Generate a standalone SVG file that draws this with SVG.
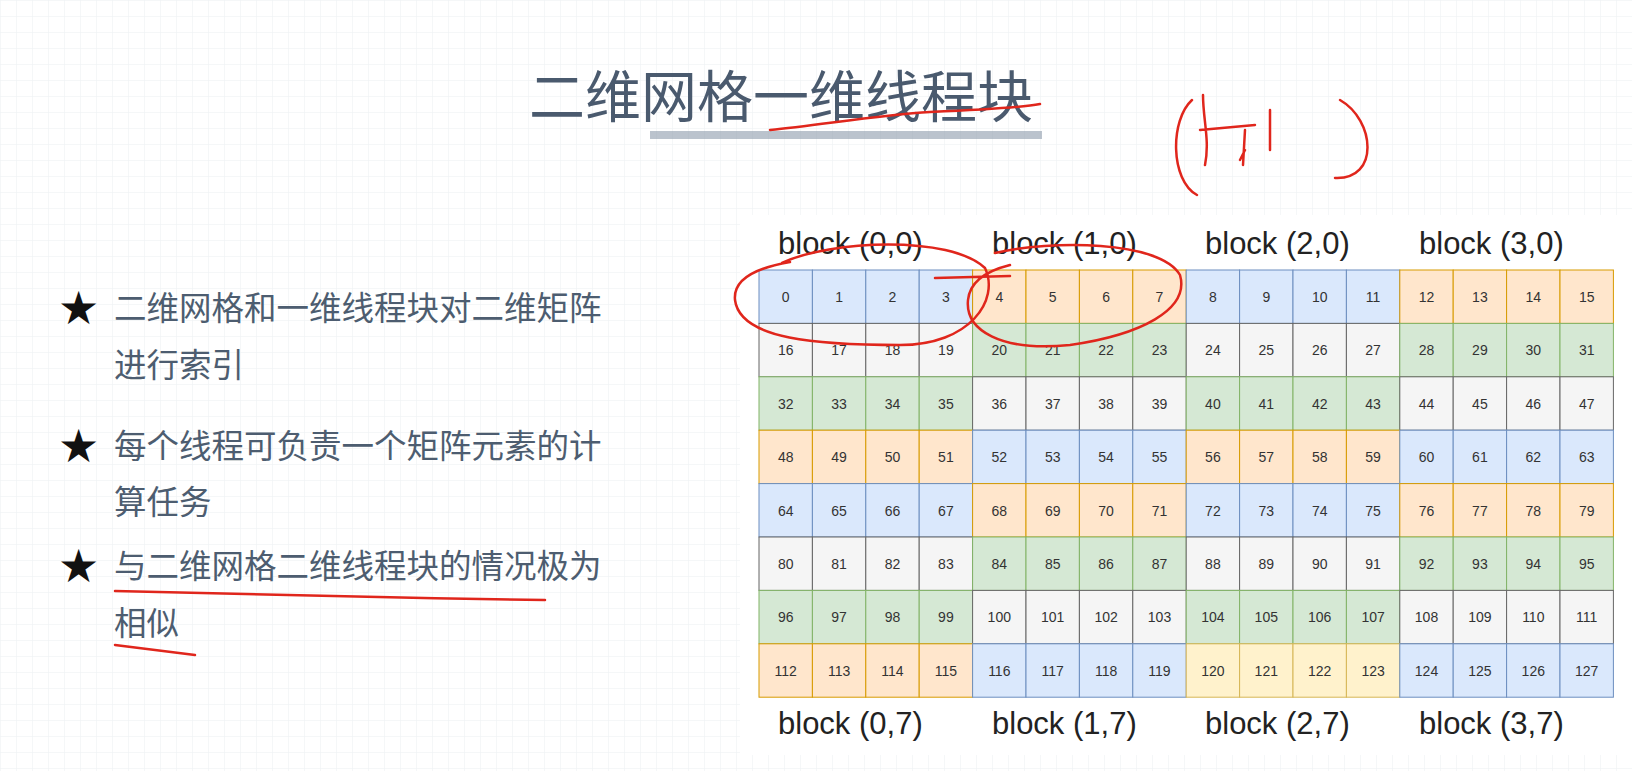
<svg xmlns="http://www.w3.org/2000/svg" width="1632" height="771" viewBox="0 0 1632 771">
<defs>
<pattern id="g" width="16" height="16" patternUnits="userSpaceOnUse"><path d="M16 0H0V16" fill="none" stroke="#eceff2" stroke-width="1"/></pattern>
<style>
.b{fill:#dae8fc;stroke:#6c8ebf}.o{fill:#ffe6cc;stroke:#d79b00}.gr{fill:#d5e8d4;stroke:#82b366}.y{fill:#fff2cc;stroke:#d6b656}.w{fill:#f5f5f5;stroke:#666}
.n{font-family:"Liberation Sans",Arial,sans-serif;font-size:14px;fill:#333;text-anchor:middle}
.l{font-family:"Liberation Sans",Arial,sans-serif;font-size:31px;fill:#222}
.t{font-family:"Noto Sans CJK SC",sans-serif;font-size:32.5px;fill:#4d5d70}
.s{font-family:"DejaVu Sans",sans-serif;font-size:46px;fill:#111}
.r{fill:none;stroke:#e0261c;stroke-width:2.5;stroke-linecap:round}
</style>
</defs>
<rect width="1632" height="771" fill="#fff"/>
<rect width="1632" height="771" fill="url(#g)"/>
<rect x="740" y="215" width="892" height="540" fill="#fff"/>
<g id="title">
<rect x="650" y="131" width="392" height="8" fill="#8e9bab" opacity="0.6"/>
<text x="781" y="117" font-family="'Noto Sans CJK SC',sans-serif" font-size="56" fill="#4a5a6e" text-anchor="middle">二维网格一维线程块</text>
</g>
<g id="bullets">
<text class="s" x="58" y="324">★</text>
<text class="s" x="58" y="462">★</text>
<text class="s" x="58" y="582">★</text>
<text class="t" x="114" y="320">二维网格和一维线程块对二维矩阵</text>
<text class="t" x="114" y="377">进行索引</text>
<text class="t" x="114" y="458">每个线程可负责一个矩阵元素的计</text>
<text class="t" x="114" y="514">算任务</text>
<text class="t" x="114" y="578">与二维网格二维线程块的情况极为</text>
<text class="t" x="114" y="635">相似</text>
</g>
<g id="grid">
<rect class="b" x="759" y="270" width="53.4" height="53.4"/><rect class="b" x="812.4" y="270" width="53.4" height="53.4"/><rect class="b" x="865.8" y="270" width="53.4" height="53.4"/><rect class="b" x="919.2" y="270" width="53.4" height="53.4"/>
<rect class="o" x="972.6" y="270" width="53.4" height="53.4"/><rect class="o" x="1026" y="270" width="53.4" height="53.4"/><rect class="o" x="1079.4" y="270" width="53.4" height="53.4"/><rect class="o" x="1132.8" y="270" width="53.4" height="53.4"/>
<rect class="b" x="1186.2" y="270" width="53.4" height="53.4"/><rect class="b" x="1239.6" y="270" width="53.4" height="53.4"/><rect class="b" x="1293" y="270" width="53.4" height="53.4"/><rect class="b" x="1346.4" y="270" width="53.4" height="53.4"/>
<rect class="o" x="1399.8" y="270" width="53.4" height="53.4"/><rect class="o" x="1453.2" y="270" width="53.4" height="53.4"/><rect class="o" x="1506.6" y="270" width="53.4" height="53.4"/><rect class="o" x="1560" y="270" width="53.4" height="53.4"/>
<rect class="w" x="759" y="323.4" width="53.4" height="53.4"/><rect class="w" x="812.4" y="323.4" width="53.4" height="53.4"/><rect class="w" x="865.8" y="323.4" width="53.4" height="53.4"/><rect class="w" x="919.2" y="323.4" width="53.4" height="53.4"/>
<rect class="gr" x="972.6" y="323.4" width="53.4" height="53.4"/><rect class="gr" x="1026" y="323.4" width="53.4" height="53.4"/><rect class="gr" x="1079.4" y="323.4" width="53.4" height="53.4"/><rect class="gr" x="1132.8" y="323.4" width="53.4" height="53.4"/>
<rect class="w" x="1186.2" y="323.4" width="53.4" height="53.4"/><rect class="w" x="1239.6" y="323.4" width="53.4" height="53.4"/><rect class="w" x="1293" y="323.4" width="53.4" height="53.4"/><rect class="w" x="1346.4" y="323.4" width="53.4" height="53.4"/>
<rect class="gr" x="1399.8" y="323.4" width="53.4" height="53.4"/><rect class="gr" x="1453.2" y="323.4" width="53.4" height="53.4"/><rect class="gr" x="1506.6" y="323.4" width="53.4" height="53.4"/><rect class="gr" x="1560" y="323.4" width="53.4" height="53.4"/>
<rect class="gr" x="759" y="376.8" width="53.4" height="53.4"/><rect class="gr" x="812.4" y="376.8" width="53.4" height="53.4"/><rect class="gr" x="865.8" y="376.8" width="53.4" height="53.4"/><rect class="gr" x="919.2" y="376.8" width="53.4" height="53.4"/>
<rect class="w" x="972.6" y="376.8" width="53.4" height="53.4"/><rect class="w" x="1026" y="376.8" width="53.4" height="53.4"/><rect class="w" x="1079.4" y="376.8" width="53.4" height="53.4"/><rect class="w" x="1132.8" y="376.8" width="53.4" height="53.4"/>
<rect class="gr" x="1186.2" y="376.8" width="53.4" height="53.4"/><rect class="gr" x="1239.6" y="376.8" width="53.4" height="53.4"/><rect class="gr" x="1293" y="376.8" width="53.4" height="53.4"/><rect class="gr" x="1346.4" y="376.8" width="53.4" height="53.4"/>
<rect class="w" x="1399.8" y="376.8" width="53.4" height="53.4"/><rect class="w" x="1453.2" y="376.8" width="53.4" height="53.4"/><rect class="w" x="1506.6" y="376.8" width="53.4" height="53.4"/><rect class="w" x="1560" y="376.8" width="53.4" height="53.4"/>
<rect class="o" x="759" y="430.2" width="53.4" height="53.4"/><rect class="o" x="812.4" y="430.2" width="53.4" height="53.4"/><rect class="o" x="865.8" y="430.2" width="53.4" height="53.4"/><rect class="o" x="919.2" y="430.2" width="53.4" height="53.4"/>
<rect class="b" x="972.6" y="430.2" width="53.4" height="53.4"/><rect class="b" x="1026" y="430.2" width="53.4" height="53.4"/><rect class="b" x="1079.4" y="430.2" width="53.4" height="53.4"/><rect class="b" x="1132.8" y="430.2" width="53.4" height="53.4"/>
<rect class="o" x="1186.2" y="430.2" width="53.4" height="53.4"/><rect class="o" x="1239.6" y="430.2" width="53.4" height="53.4"/><rect class="o" x="1293" y="430.2" width="53.4" height="53.4"/><rect class="o" x="1346.4" y="430.2" width="53.4" height="53.4"/>
<rect class="b" x="1399.8" y="430.2" width="53.4" height="53.4"/><rect class="b" x="1453.2" y="430.2" width="53.4" height="53.4"/><rect class="b" x="1506.6" y="430.2" width="53.4" height="53.4"/><rect class="b" x="1560" y="430.2" width="53.4" height="53.4"/>
<rect class="b" x="759" y="483.6" width="53.4" height="53.4"/><rect class="b" x="812.4" y="483.6" width="53.4" height="53.4"/><rect class="b" x="865.8" y="483.6" width="53.4" height="53.4"/><rect class="b" x="919.2" y="483.6" width="53.4" height="53.4"/>
<rect class="o" x="972.6" y="483.6" width="53.4" height="53.4"/><rect class="o" x="1026" y="483.6" width="53.4" height="53.4"/><rect class="o" x="1079.4" y="483.6" width="53.4" height="53.4"/><rect class="o" x="1132.8" y="483.6" width="53.4" height="53.4"/>
<rect class="b" x="1186.2" y="483.6" width="53.4" height="53.4"/><rect class="b" x="1239.6" y="483.6" width="53.4" height="53.4"/><rect class="b" x="1293" y="483.6" width="53.4" height="53.4"/><rect class="b" x="1346.4" y="483.6" width="53.4" height="53.4"/>
<rect class="o" x="1399.8" y="483.6" width="53.4" height="53.4"/><rect class="o" x="1453.2" y="483.6" width="53.4" height="53.4"/><rect class="o" x="1506.6" y="483.6" width="53.4" height="53.4"/><rect class="o" x="1560" y="483.6" width="53.4" height="53.4"/>
<rect class="w" x="759" y="537" width="53.4" height="53.4"/><rect class="w" x="812.4" y="537" width="53.4" height="53.4"/><rect class="w" x="865.8" y="537" width="53.4" height="53.4"/><rect class="w" x="919.2" y="537" width="53.4" height="53.4"/>
<rect class="gr" x="972.6" y="537" width="53.4" height="53.4"/><rect class="gr" x="1026" y="537" width="53.4" height="53.4"/><rect class="gr" x="1079.4" y="537" width="53.4" height="53.4"/><rect class="gr" x="1132.8" y="537" width="53.4" height="53.4"/>
<rect class="w" x="1186.2" y="537" width="53.4" height="53.4"/><rect class="w" x="1239.6" y="537" width="53.4" height="53.4"/><rect class="w" x="1293" y="537" width="53.4" height="53.4"/><rect class="w" x="1346.4" y="537" width="53.4" height="53.4"/>
<rect class="gr" x="1399.8" y="537" width="53.4" height="53.4"/><rect class="gr" x="1453.2" y="537" width="53.4" height="53.4"/><rect class="gr" x="1506.6" y="537" width="53.4" height="53.4"/><rect class="gr" x="1560" y="537" width="53.4" height="53.4"/>
<rect class="gr" x="759" y="590.4" width="53.4" height="53.4"/><rect class="gr" x="812.4" y="590.4" width="53.4" height="53.4"/><rect class="gr" x="865.8" y="590.4" width="53.4" height="53.4"/><rect class="gr" x="919.2" y="590.4" width="53.4" height="53.4"/>
<rect class="w" x="972.6" y="590.4" width="53.4" height="53.4"/><rect class="w" x="1026" y="590.4" width="53.4" height="53.4"/><rect class="w" x="1079.4" y="590.4" width="53.4" height="53.4"/><rect class="w" x="1132.8" y="590.4" width="53.4" height="53.4"/>
<rect class="gr" x="1186.2" y="590.4" width="53.4" height="53.4"/><rect class="gr" x="1239.6" y="590.4" width="53.4" height="53.4"/><rect class="gr" x="1293" y="590.4" width="53.4" height="53.4"/><rect class="gr" x="1346.4" y="590.4" width="53.4" height="53.4"/>
<rect class="w" x="1399.8" y="590.4" width="53.4" height="53.4"/><rect class="w" x="1453.2" y="590.4" width="53.4" height="53.4"/><rect class="w" x="1506.6" y="590.4" width="53.4" height="53.4"/><rect class="w" x="1560" y="590.4" width="53.4" height="53.4"/>
<rect class="o" x="759" y="643.8" width="53.4" height="53.4"/><rect class="o" x="812.4" y="643.8" width="53.4" height="53.4"/><rect class="o" x="865.8" y="643.8" width="53.4" height="53.4"/><rect class="o" x="919.2" y="643.8" width="53.4" height="53.4"/>
<rect class="b" x="972.6" y="643.8" width="53.4" height="53.4"/><rect class="b" x="1026" y="643.8" width="53.4" height="53.4"/><rect class="b" x="1079.4" y="643.8" width="53.4" height="53.4"/><rect class="b" x="1132.8" y="643.8" width="53.4" height="53.4"/>
<rect class="y" x="1186.2" y="643.8" width="53.4" height="53.4"/><rect class="y" x="1239.6" y="643.8" width="53.4" height="53.4"/><rect class="y" x="1293" y="643.8" width="53.4" height="53.4"/><rect class="y" x="1346.4" y="643.8" width="53.4" height="53.4"/>
<rect class="b" x="1399.8" y="643.8" width="53.4" height="53.4"/><rect class="b" x="1453.2" y="643.8" width="53.4" height="53.4"/><rect class="b" x="1506.6" y="643.8" width="53.4" height="53.4"/><rect class="b" x="1560" y="643.8" width="53.4" height="53.4"/>
</g>
<g id="numbers">
<text class="n" y="302"><tspan x="785.7">0</tspan><tspan x="839.1">1</tspan><tspan x="892.5">2</tspan><tspan x="945.9">3</tspan><tspan x="999.3">4</tspan><tspan x="1052.7">5</tspan><tspan x="1106.1">6</tspan><tspan x="1159.5">7</tspan><tspan x="1212.9">8</tspan><tspan x="1266.3">9</tspan><tspan x="1319.7">10</tspan><tspan x="1373.1">11</tspan><tspan x="1426.5">12</tspan><tspan x="1479.9">13</tspan><tspan x="1533.3">14</tspan><tspan x="1586.7">15</tspan></text>
<text class="n" y="355.4"><tspan x="785.7">16</tspan><tspan x="839.1">17</tspan><tspan x="892.5">18</tspan><tspan x="945.9">19</tspan><tspan x="999.3">20</tspan><tspan x="1052.7">21</tspan><tspan x="1106.1">22</tspan><tspan x="1159.5">23</tspan><tspan x="1212.9">24</tspan><tspan x="1266.3">25</tspan><tspan x="1319.7">26</tspan><tspan x="1373.1">27</tspan><tspan x="1426.5">28</tspan><tspan x="1479.9">29</tspan><tspan x="1533.3">30</tspan><tspan x="1586.7">31</tspan></text>
<text class="n" y="408.8"><tspan x="785.7">32</tspan><tspan x="839.1">33</tspan><tspan x="892.5">34</tspan><tspan x="945.9">35</tspan><tspan x="999.3">36</tspan><tspan x="1052.7">37</tspan><tspan x="1106.1">38</tspan><tspan x="1159.5">39</tspan><tspan x="1212.9">40</tspan><tspan x="1266.3">41</tspan><tspan x="1319.7">42</tspan><tspan x="1373.1">43</tspan><tspan x="1426.5">44</tspan><tspan x="1479.9">45</tspan><tspan x="1533.3">46</tspan><tspan x="1586.7">47</tspan></text>
<text class="n" y="462.2"><tspan x="785.7">48</tspan><tspan x="839.1">49</tspan><tspan x="892.5">50</tspan><tspan x="945.9">51</tspan><tspan x="999.3">52</tspan><tspan x="1052.7">53</tspan><tspan x="1106.1">54</tspan><tspan x="1159.5">55</tspan><tspan x="1212.9">56</tspan><tspan x="1266.3">57</tspan><tspan x="1319.7">58</tspan><tspan x="1373.1">59</tspan><tspan x="1426.5">60</tspan><tspan x="1479.9">61</tspan><tspan x="1533.3">62</tspan><tspan x="1586.7">63</tspan></text>
<text class="n" y="515.6"><tspan x="785.7">64</tspan><tspan x="839.1">65</tspan><tspan x="892.5">66</tspan><tspan x="945.9">67</tspan><tspan x="999.3">68</tspan><tspan x="1052.7">69</tspan><tspan x="1106.1">70</tspan><tspan x="1159.5">71</tspan><tspan x="1212.9">72</tspan><tspan x="1266.3">73</tspan><tspan x="1319.7">74</tspan><tspan x="1373.1">75</tspan><tspan x="1426.5">76</tspan><tspan x="1479.9">77</tspan><tspan x="1533.3">78</tspan><tspan x="1586.7">79</tspan></text>
<text class="n" y="569"><tspan x="785.7">80</tspan><tspan x="839.1">81</tspan><tspan x="892.5">82</tspan><tspan x="945.9">83</tspan><tspan x="999.3">84</tspan><tspan x="1052.7">85</tspan><tspan x="1106.1">86</tspan><tspan x="1159.5">87</tspan><tspan x="1212.9">88</tspan><tspan x="1266.3">89</tspan><tspan x="1319.7">90</tspan><tspan x="1373.1">91</tspan><tspan x="1426.5">92</tspan><tspan x="1479.9">93</tspan><tspan x="1533.3">94</tspan><tspan x="1586.7">95</tspan></text>
<text class="n" y="622.4"><tspan x="785.7">96</tspan><tspan x="839.1">97</tspan><tspan x="892.5">98</tspan><tspan x="945.9">99</tspan><tspan x="999.3">100</tspan><tspan x="1052.7">101</tspan><tspan x="1106.1">102</tspan><tspan x="1159.5">103</tspan><tspan x="1212.9">104</tspan><tspan x="1266.3">105</tspan><tspan x="1319.7">106</tspan><tspan x="1373.1">107</tspan><tspan x="1426.5">108</tspan><tspan x="1479.9">109</tspan><tspan x="1533.3">110</tspan><tspan x="1586.7">111</tspan></text>
<text class="n" y="675.8"><tspan x="785.7">112</tspan><tspan x="839.1">113</tspan><tspan x="892.5">114</tspan><tspan x="945.9">115</tspan><tspan x="999.3">116</tspan><tspan x="1052.7">117</tspan><tspan x="1106.1">118</tspan><tspan x="1159.5">119</tspan><tspan x="1212.9">120</tspan><tspan x="1266.3">121</tspan><tspan x="1319.7">122</tspan><tspan x="1373.1">123</tspan><tspan x="1426.5">124</tspan><tspan x="1479.9">125</tspan><tspan x="1533.3">126</tspan><tspan x="1586.7">127</tspan></text>
</g>
<g id="labels">
<text class="l" y="254"><tspan x="778">block (0,0)</tspan><tspan x="992">block (1,0)</tspan><tspan x="1205">block (2,0)</tspan><tspan x="1419">block (3,0)</tspan></text>
<text class="l" y="734"><tspan x="778">block (0,7)</tspan><tspan x="992">block (1,7)</tspan><tspan x="1205">block (2,7)</tspan><tspan x="1419">block (3,7)</tspan></text>
</g>
<g id="annotations">
<path class="r" d="M782 263 C830 240 950 235 985 268 C1000 300 970 345 900 345 C820 345 740 340 735 300 C733 280 755 268 790 262"/>
<path class="r" d="M995 253 C1050 240 1160 240 1180 275 C1190 310 1140 335 1070 345 C1000 352 965 330 968 300 C970 280 990 270 1010 265 M935 278 L1010 276"/>
<path class="r" d="M1192 100 C1170 120 1170 180 1197 195 M1203 95 C1203 120 1210 140 1205 165 M1200 130 L1255 125 M1245 130 L1243 165 M1245 150 L1240 160 M1270 110 L1270 150 M1340 100 C1375 120 1380 180 1335 178"/>
<path class="r" d="M115 591 C250 595 400 598 545 600 M115 645 L195 655"/>
<path class="r" d="M770 130 C820 125 880 115 930 112 C980 110 1020 108 1040 104"/>
</g>
</svg>
